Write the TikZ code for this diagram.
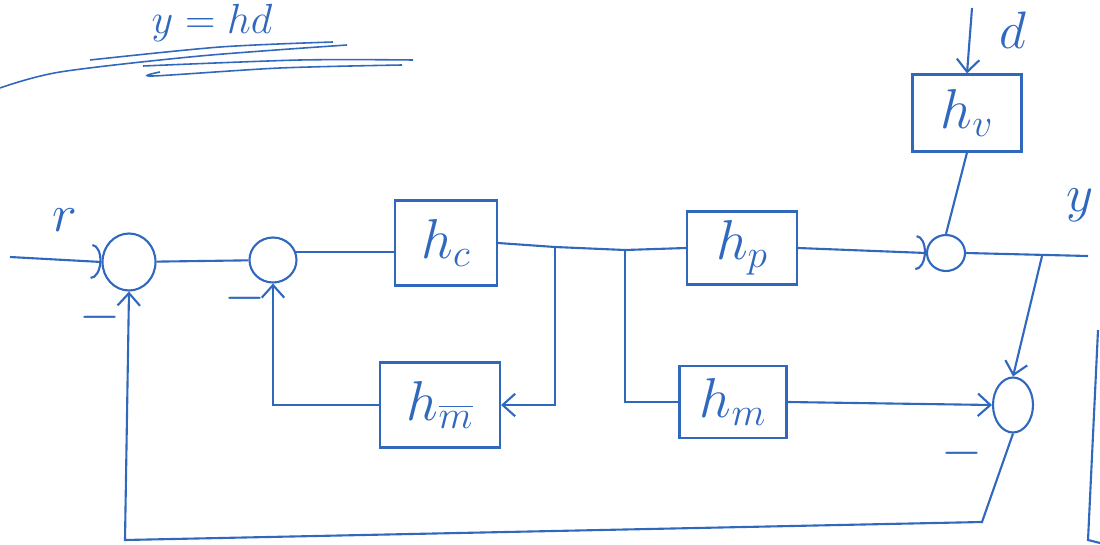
\RequirePackage{fix-cm}
\documentclass[tikz,border=0pt]{standalone}
\usepackage{amsmath}
\usepackage{tikz}
\usetikzlibrary{arrows.meta, shapes.geometric}
\definecolor{ink}{RGB}{48,104,190}
\tikzset{
  blk/.style={draw, inner sep=0pt, font=\fontsize{32}{36}\selectfont},
  sumnode/.style={draw, ellipse, inner sep=0pt},
  lbl/.style={font=\fontsize{30}{34}\selectfont},
  arc/.style={-{Arc Barb[length=2mm, width=7mm]}}
}
\begin{document}
\begin{tikzpicture}[x=0.2mm, y=-0.2mm, >={Straight Barb[length=2.5mm, width=4.5mm]}, color=ink, line width=1.2pt]
\useasboundingbox (0,0) rectangle (1100,545);
% title and its underline scribble
\node[lbl, font=\fontsize{24}{28}\selectfont, anchor=base] (eq) at (212,34) {$y = hd$};
\draw[line width=.9pt] plot[smooth] coordinates {(0,88) (60,72) (200,56) (347,45)};
\draw[line width=.9pt] plot[smooth] coordinates {(90,60) (220,47) (333,42)};
\draw[line width=.9pt] plot[smooth] coordinates {(143,66) (300,60) (413,60)};
\draw[line width=.9pt] plot[smooth] coordinates {(160,72) (153,76) (280,68) (402,65)};
% blocks
\node[blk, minimum width=20.4mm, minimum height=17mm] (hc) at (446,243) {$h_c$};
\node[blk, minimum width=24mm, minimum height=17mm] (hmt) at (440,405) {$h_{\overline{m}}$};
\node[blk, minimum width=22mm, minimum height=14.6mm] (hp) at (742,248) {$h_p$};
\node[blk, minimum width=21.4mm, minimum height=14.4mm] (hm) at (733,402) {$h_m$};
\node[blk, minimum width=21.8mm, minimum height=15.4mm] (hv) at (967,113) {$h_v$};
% summing points
\node[sumnode, minimum width=10.6mm, minimum height=11.4mm] (s1) at (129,262) {};
\node[sumnode, minimum width=9.4mm, minimum height=9mm] (s2) at (273,260) {};
\node[sumnode, minimum width=7.6mm, minimum height=7.2mm] (s3) at (946,253) {};
\node[sumnode, minimum width=8mm, minimum height=11mm] (s4) at (1013,405) {};
% labels
\node[lbl] (r) at (65,220) {$r$};
\node[lbl] (d) at (1013,30) {$d$};
\node[lbl, anchor=west] (y) at (1060,205) {$y$};
\node[lbl] (m1) at (100,317) {$-$};
\node[lbl] (m2) at (245,298) {$-$};
\node[lbl] (m4) at (962,453) {$-$};
% connection points
\coordinate (in) at (10,257);
\coordinate (j1) at (555,247);
\coordinate (j2) at (625,250);
\coordinate (j3) at (1042,256);
\coordinate (out) at (1088,256);
\coordinate (dtop) at (972,8);
\coordinate (fb) at (982,522);
\coordinate (bl) at (125,540);
% signal lines
\draw[arc] (in) -- (s1.west);
\draw (s1) -- (s2);
\draw (s2.20) -- (hc.west |- s2.20);
\draw (hc.east) -- (j1) -- (j2) -- (hp.west);
\draw[->] (j1) |- (hmt.east);
\draw[->] (hmt.west) -| (s2.south);
\draw (j2) |- (hm.west);
\draw[->] (hm.east) -- (s4.west);
\draw[arc] (hp.east) -- (s3.west);
\draw[->] (dtop) -- (hv.north);
\draw (hv.south) -- (s3.north);
\draw (s3.east) -- (out);
\draw[->] (j3) -- (s4.north);
\draw[->] (s4.south) -- (fb) -- (bl) -- (s1.south);
\draw (1098,330) -- (1088,540) -- (1100,543);
\end{tikzpicture}
\end{document}
